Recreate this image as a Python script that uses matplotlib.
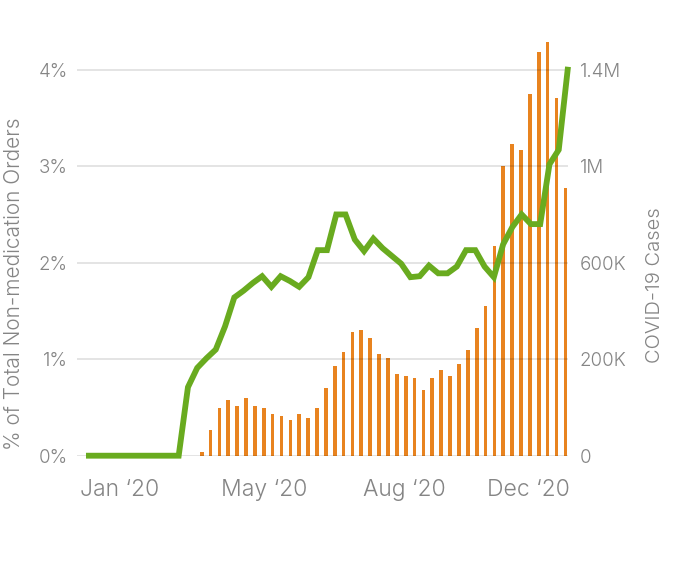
import matplotlib
matplotlib.use("Agg")
import matplotlib.pyplot as plt
import numpy as np

plt.rcParams['font.family'] = ['Inter', 'DejaVu Sans']
plt.rcParams['font.weight'] = 300

# ---- data ----
# share of total non-medication orders (%), weekly through 2020
order_share = [0, 0, 0, 0, 0, 0, 0, 0, 0, 0, 0,
               0.71, 0.91, 1.01, 1.10, 1.34, 1.64, 1.71, 1.79, 1.86, 1.75,
               1.86, 1.81, 1.75, 1.85, 2.13, 2.13, 2.50, 2.50, 2.24, 2.12,
               2.25, 2.15, 2.07, 1.99, 1.85, 1.86, 1.97, 1.89, 1.89, 1.96,
               2.13, 2.13, 1.96, 1.85, 2.19, 2.37, 2.50, 2.40, 2.40, 3.02,
               3.17, 4.03]
# weekly COVID-19 cases (axis units as drawn)
covid_cases = [13e3, 93e3, 173e3, 202e3, 180e3, 209e3, 180e3, 173e3, 151e3,
               144e3, 129e3, 151e3, 137e3, 173e3, 246e3, 325e3, 376e3, 449e3,
               456e3, 427e3, 369e3, 354e3, 296e3, 289e3, 282e3, 238e3, 282e3,
               311e3, 289e3, 333e3, 383e3, 463e3, 543e3, 761e3, 1051e3,
               1131e3, 1109e3, 1312e3, 1464e3, 1501e3, 1297e3, 971e3]
x_tick_labels = ["Jan \u201820", "May \u201820", "Aug \u201820", "Dec \u201820"]
left_tick_labels = ["0%", "1%", "2%", "3%", "4%"]
right_tick_labels = ["0", "200K", "600K", "1M", "1.4M"]

# ---- positions ----
line_x = np.arange(len(order_share))
bar_x = 12.48 + np.arange(len(covid_cases)) * 0.957
x_tick_pos = [3.67, 19.2, 34.4, 47.7]
left_ticks = [0, 1, 2, 3, 4]
unit = 350000
right_ticks = [v * unit for v in left_ticks]

GREEN = "#69AB1F"
ORANGE = "#E8831F"
GRAY = "#858585"

W, H = 675, 568
fig = plt.figure(figsize=(W / 100, H / 100), dpi=100)
left, right = 77 / W, 568 / W
bottom_px, top_px = 455.7, 31.1
ax = fig.add_axes([left, (H - bottom_px) / H, right - left, (bottom_px - top_px) / H])
ax2 = ax.twinx()

ymax = 4.4
ax.set_ylim(0, ymax)
ax2.set_ylim(0, ymax * unit)
ax.set_xlim(-0.97, 52.0)

# bars
ax2.bar(bar_x, covid_cases, width=0.40, color=ORANGE, zorder=2, linewidth=0)
# gridlines (semi-transparent, drawn over bars)
for t in right_ticks:
    ax2.axhline(t, color="black", alpha=0.11, linewidth=1.4, zorder=3)

# line on top
ax.set_zorder(ax2.get_zorder() + 1)
ax.patch.set_visible(False)
ax.plot(line_x, order_share, color=GREEN, linewidth=4.2, clip_on=False,
        solid_joinstyle="miter", solid_capstyle="butt", zorder=4)

for a in (ax, ax2):
    for s in a.spines.values():
        s.set_visible(False)

ax.set_yticks(left_ticks)
ax.set_yticklabels(left_tick_labels)
ax.tick_params(axis="y", length=0, pad=6.5, labelsize=13.5, labelcolor=GRAY)
ax2.set_yticks(right_ticks)
ax2.set_yticklabels(right_tick_labels)
ax2.tick_params(axis="y", length=0, pad=8.5, labelsize=13.5, labelcolor=GRAY)
ax.set_xticks(x_tick_pos)
ax.set_xticklabels(x_tick_labels)
ax.tick_params(axis="x", length=0, pad=17, labelsize=16.5, labelcolor=GRAY)
ax2.tick_params(axis="x", length=0)

fig.text(14 / W, 1 - 284 / H, "% of Total Non-medication Orders", rotation=90,
         ha="center", va="center", fontsize=15, color=GRAY)
fig.text(655 / W, 1 - 285 / H, "COVID-19 Cases", rotation=90,
         ha="center", va="center", fontsize=14.5, color=GRAY)

fig.savefig("out.png", dpi=100)
